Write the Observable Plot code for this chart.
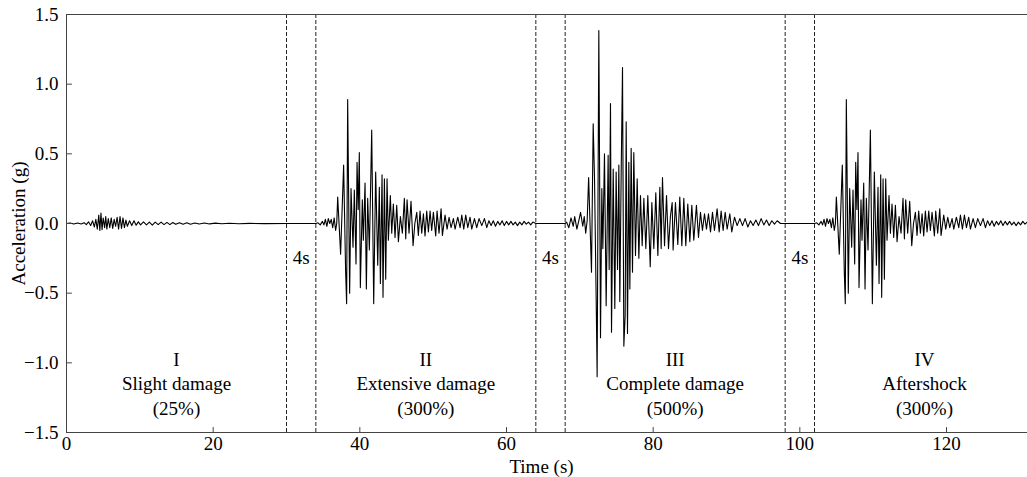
<!DOCTYPE html>
<html><head><meta charset="utf-8">
<script src="https://cdn.jsdelivr.net/npm/d3@7"></script>
<script src="https://cdn.jsdelivr.net/npm/@observablehq/plot@0.6"></script>
<style>
html,body{margin:0;padding:0;background:#fff;overflow:hidden;width:1027px;height:477px;}
#chart{width:1027px;height:477px;overflow:hidden;}
#chart svg{display:block;max-width:none !important;height:477px !important;}
</style></head><body><div id="chart"></div>
<script>
// ---- data ----
const segmentNames = ["I", "II", "III", "IV"];
const segmentDamage = ["Slight damage", "Extensive damage", "Complete damage", "Aftershock"];
const segmentScale = ["(25%)", "(300%)", "(500%)", "(300%)"];
const segmentStart = [0, 34, 68, 102];
const segmentLength = 30;
const gapLabel = "4s";
const xTicks = [0, 20, 40, 60, 80, 100, 120];
const yTicks = [-1.5, -1.0, -0.5, 0, 0.5, 1.0, 1.5];
const xDomain = [0, 132];
const yDomain = [-1.5, 1.5];

// [time within segment (s), acceleration (g)]
const recordI = [[0,0],[0.5,0.003],[1.0,-0.004],[1.5,0.004],[2.0,-0.003],[2.4,0.006],[2.7,-0.008],[3.0,0.012],[3.3,-0.015],[3.55,0.02],[3.8,-0.025],[4.0,0.03],[4.2,-0.04],[4.4,0.06],[4.55,-0.05],[4.7,0.075],[4.85,-0.045],[5.0,0.04],[5.2,-0.03],[5.35,0.05],[5.5,-0.04],[5.7,0.035],[5.9,-0.03],[6.1,0.04],[6.3,-0.035],[6.5,0.03],[6.7,-0.02],[6.9,0.045],[7.1,-0.04],[7.3,0.05],[7.5,-0.035],[7.7,0.04],[7.9,-0.03],[8.1,0.025],[8.3,-0.02],[8.6,0.02],[8.9,-0.015],[9.2,0.02],[9.5,-0.012],[9.8,0.012],[10.1,-0.01],[10.5,0.012],[10.9,-0.01],[11.3,0.01],[11.7,-0.012],[12.1,0.01],[12.5,-0.008],[12.9,0.01],[13.3,-0.008],[13.7,0.008],[14.1,-0.008],[14.5,0.007],[14.9,-0.006],[15.4,0.006],[15.9,-0.005],[16.4,0.005],[16.9,-0.005],[17.5,0.004],[18.1,-0.004],[18.8,0.003],[19.5,-0.003],[20.3,0.003],[21.2,-0.002],[22.2,0.002],[23.5,-0.002],[25,0.001],[27,-0.001],[30,0]];

const recordII = [[0,0],[0.3,0.005],[0.6,-0.01],[0.9,0.015],[1.1,-0.01],[1.3,0.03],[1.5,-0.02],[1.7,0.035],[1.9,0.0],[2.1,0.03],[2.3,-0.03],[2.5,0.04],[2.7,-0.05],[2.85,0.0],[2.98,0.19],[3.38,-0.22],[3.79,0.42],[4.06,-0.34],[4.2,-0.575],[4.34,0.89],[4.61,-0.5],[4.8,0.25],[5.07,-0.17],[5.25,0.24],[5.48,-0.29],[5.62,0.44],[5.78,0.1],[5.93,0.51],[6.07,-0.46],[6.34,0.17],[6.48,-0.12],[6.71,0.29],[6.89,-0.47],[7.07,0.18],[7.3,-0.19],[7.62,0.67],[7.89,-0.575],[8.16,0.37],[8.44,-0.3],[8.66,0.26],[8.8,-0.43],[9.03,0.35],[9.16,-0.53],[9.35,0.32],[9.53,-0.4],[9.71,0.32],[9.89,-0.12],[10.16,0.2],[10.35,-0.07],[10.57,0.14],[10.8,-0.1],[11.03,0.13],[11.26,-0.13],[11.53,0.05],[11.8,-0.07],[12.07,0.18],[12.26,-0.11],[12.44,0.17],[12.71,-0.07],[12.98,0.16],[13.26,-0.16],[13.5,0.0],[13.76,0.08],[13.98,-0.086],[14.21,0.09],[14.44,-0.07],[14.67,0.07],[14.89,-0.09],[15.12,0.09],[15.35,-0.06],[15.58,0.09],[15.8,-0.05],[16.03,0.08],[16.35,-0.09],[16.53,0.09],[16.8,-0.07],[17.08,0.105],[17.26,-0.086],[17.62,0.06],[17.9,-0.04],[18.17,0.045],[18.44,-0.03],[18.76,0.035],[18.99,-0.04],[19.35,0.045],[19.67,-0.03],[19.9,0.06],[20.17,-0.04],[20.44,0.06],[20.72,-0.03],[21.03,0.045],[21.26,-0.04],[21.63,0.035],[21.94,-0.03],[22.26,0.035],[22.63,-0.015],[22.99,0.035],[23.31,-0.03],[23.6,0.02],[23.9,-0.015],[24.2,0.02],[24.5,-0.02],[24.8,0.015],[25.1,-0.01],[25.4,0.02],[25.7,-0.015],[26.0,0.015],[26.3,-0.01],[26.6,0.015],[26.9,-0.01],[27.2,0.01],[27.5,-0.015],[27.8,0.01],[28.1,-0.01],[28.4,0.015],[28.7,-0.005],[29.0,0.01],[29.3,-0.01],[29.6,0.01],[30,0]];

const recordIII = [[0,0],[0.2,0.01],[0.5,-0.03],[0.8,0.04],[1.1,-0.02],[1.3,0.05],[1.6,-0.04],[1.9,0.03],[2.1,0.08],[2.4,-0.02],[2.6,0.05],[2.8,-0.07],[3.0,0.02],[3.2,0.33],[3.59,-0.35],[3.82,0.715],[4.0,0.33],[4.23,-0.55],[4.36,-1.1],[4.59,1.385],[4.82,-0.82],[5.0,0.25],[5.14,-0.18],[5.36,0.5],[5.59,-0.59],[5.86,0.49],[6.0,-0.33],[6.18,0.86],[6.32,-0.78],[6.55,0.39],[6.77,-0.61],[6.95,0.37],[7.14,-0.33],[7.32,0.42],[7.45,-0.56],[7.64,0.37],[7.82,1.12],[8.0,-0.88],[8.18,-0.66],[8.32,0.73],[8.5,-0.79],[8.68,0.44],[8.82,-0.47],[9.0,0.54],[9.18,-0.35],[9.36,0.51],[9.59,-0.23],[9.82,0.32],[10.05,-0.25],[10.27,0.2],[10.5,-0.16],[10.73,0.18],[11.0,-0.18],[11.27,0.2],[11.6,-0.31],[11.82,0.15],[12.09,-0.18],[12.36,0.22],[12.64,-0.23],[12.91,0.26],[13.09,-0.18],[13.27,0.33],[13.55,-0.16],[13.82,0.2],[14.09,-0.18],[14.35,0.05],[14.59,0.15],[14.72,-0.19],[15.04,0.15],[15.36,-0.15],[15.63,0.19],[15.91,-0.16],[16.18,0.18],[16.45,-0.16],[16.72,0.14],[17.0,-0.13],[17.27,0.13],[17.54,-0.12],[17.9,0.13],[18.18,-0.1],[18.45,0.08],[18.72,-0.05],[19.0,0.07],[19.27,-0.04],[19.54,0.07],[19.82,-0.06],[20.09,0.08],[20.36,-0.05],[20.72,0.105],[21.0,-0.06],[21.27,0.09],[21.54,-0.05],[21.82,0.08],[22.09,-0.04],[22.45,0.07],[22.72,-0.06],[23.09,0.045],[23.45,-0.015],[23.82,0.035],[24.18,-0.015],[24.54,0.035],[24.91,-0.025],[25.27,0.02],[25.63,-0.015],[26.0,0.025],[26.36,-0.015],[26.72,0.035],[27.09,-0.01],[27.45,0.025],[27.82,-0.015],[28.18,0.02],[28.54,-0.005],[28.91,0.02],[29.36,0.0],[30,0]];

const recordIV = recordII; // aftershock replays the 300% record

// ---- derived tables ----
const records = [recordI, recordII, recordIII, recordIV];
const series = [];
records.forEach((rec, k) => rec.forEach(([tau, a]) => series.push({t: segmentStart[k] + tau, a})));
const boundaries = [];
segmentStart.forEach((s, k) => { if (k > 0) boundaries.push(s); if (k < segmentStart.length - 1) boundaries.push(s + segmentLength); });
const gaps = segmentStart.slice(1).map((s, k) => ({x: (segmentStart[k] + segmentLength + s) / 2, label: gapLabel}));
const segLabels = segmentNames.map((n, k) => ({x: segmentStart[k] + segmentLength / 2, label: `${n}\n${segmentDamage[k]}\n${segmentScale[k]}`}));

const tickShape = {draw(ctx, l) { ctx.moveTo(0, 0); ctx.lineTo(0, -l); }};
const FS = 19;

const chart = Plot.plot({
  width: 1036, height: 477,
  marginLeft: 66, marginRight: 2, marginTop: 14, marginBottom: 45,
  style: {fontFamily: "'Liberation Serif','Times New Roman',serif", fontSize: FS + "px", background: "#fff", color: "#000", maxWidth: "none"},
  x: {domain: xDomain},
  y: {domain: yDomain},
  marks: [
    Plot.ruleX(boundaries, {x: d => d, stroke: "#222", strokeWidth: 1, strokeDasharray: "4,2"}),
    Plot.line(series, {x: "t", y: "a", stroke: "#000", strokeWidth: 1.1}),
    Plot.frame({stroke: "#444", strokeWidth: 1}),
    Plot.vector(xTicks, {x: d => d, y: () => yDomain[0], length: 5, rotate: 0, anchor: "start", shape: tickShape, stroke: "#444", strokeWidth: 1}),
    Plot.vector(yTicks, {x: () => xDomain[0], y: d => d, length: 5, rotate: 90, anchor: "start", shape: tickShape, stroke: "#444", strokeWidth: 1}),
    Plot.axisX({ticks: xTicks, tickSize: 0, tickPadding: 4, label: null, tickFormat: d3.format("d"), fontSize: FS}),
    Plot.axisY({ticks: yTicks, tickSize: 0, tickPadding: 8, label: null, tickFormat: d3.format(".1f"), fontSize: FS}),
    Plot.text(["Time (s)"], {frameAnchor: "bottom", dx: -9, dy: 34, textAnchor: "middle", lineAnchor: "middle", text: d => d, fontSize: FS}),
    Plot.text(["Acceleration (g)"], {frameAnchor: "left", dx: -48, rotate: -90, textAnchor: "middle", lineAnchor: "middle", text: d => d, fontSize: FS}),
    Plot.text(gaps, {x: "x", y: () => -0.25, text: "label", fontSize: FS}),
    Plot.text(segLabels, {x: "x", y: () => -1.14, text: "label", lineAnchor: "middle", lineHeight: 1.29, fontSize: FS})
  ]
});

document.getElementById("chart").appendChild(chart);
</script></body></html>
